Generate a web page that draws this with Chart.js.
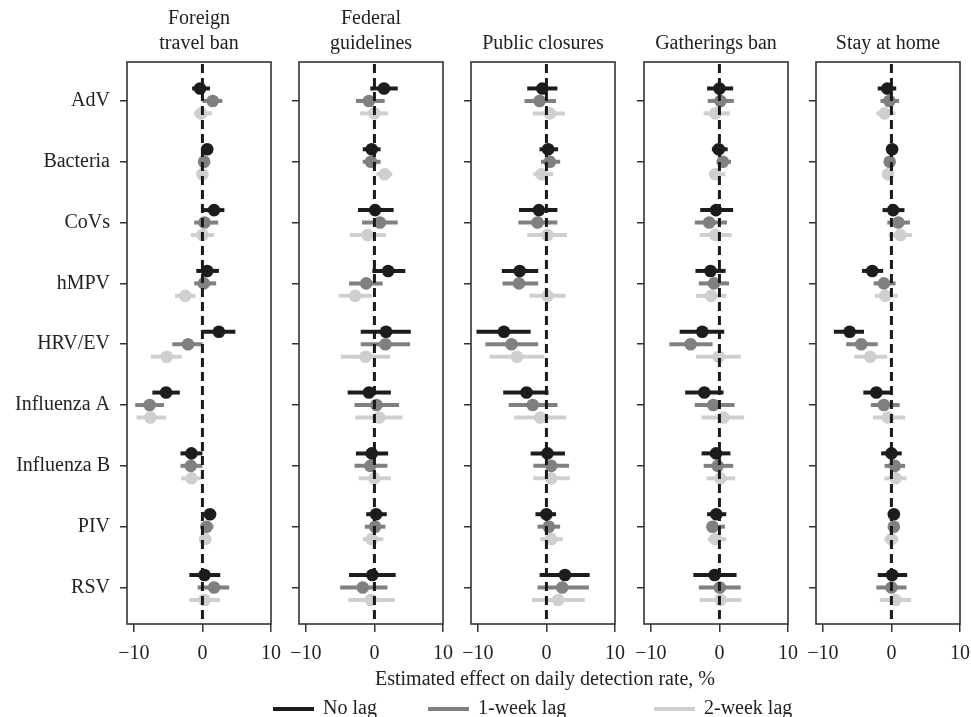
<!DOCTYPE html>
<html>
<head>
<meta charset="utf-8">
<script src="https://cdn.jsdelivr.net/npm/chart.js@4.4.0/dist/chart.umd.min.js"></script>
<style>
  body { margin: 0; background: #fff; width: 971px; height: 717px; overflow: hidden; position: relative;
         font-family: "Liberation Serif", "DejaVu Serif", serif; color: #222; }
  canvas { position: absolute; top: 0; }
  .title { position: absolute; width: 190px; text-align: center; font-size: 20px; line-height: 25px; }
  .xlabel { position: absolute; left: 0; width: 1090px; text-align: center; font-size: 20px; top: 667px; }
  .legend { position: absolute; top: 695px; font-size: 20px; line-height: 24px; white-space: nowrap; }
  .legend span.swatch { display: inline-block; width: 41px; height: 4px; vertical-align: middle; margin-right: 9px; }
</style>
</head>
<body>
<div id="wrap"></div>
<div class="xlabel">Estimated effect on daily detection rate, %</div>
<div id="legend"></div>

<script>
// Categories and panel titles
const categories = ['AdV', 'Bacteria', 'CoVs', 'hMPV', 'HRV/EV', 'Influenza A', 'Influenza B', 'PIV', 'RSV'];
const interventions = ['Foreign\ntravel ban', 'Federal\nguidelines', 'Public closures', 'Gatherings ban', 'Stay at home'];
const lags = ['No lag', '1-week lag', '2-week lag'];

// Each row: [estimate, lower, upper] per category, in %
const travelNoLag = [[-0.35, -1.5, 1.1], [0.7, 0, 1.4], [1.7, 0, 3.2], [0.7, -0.9, 2.4], [2.4, 0, 4.8],
  [-5.3, -7.3, -3.3], [-1.6, -3.2, 0], [1.1, 0.3, 2.0], [0.3, -1.9, 2.6]];
const travel1Week = [[1.5, 0, 2.9], [0.25, -0.5, 1.0], [0.3, -1.2, 2.3], [0.2, -1.2, 2.0], [-2.1, -4.4, 0],
  [-7.7, -9.8, -5.6], [-1.7, -3.2, 0], [0.6, -0.3, 1.6], [1.7, -0.7, 3.9]];
const travel2Week = [[-0.2, -1.2, 1.4], [0, -0.7, 0.7], [0, -1.7, 1.7], [-2.5, -4.0, -1.0], [-5.2, -7.5, -3.0],
  [-7.6, -9.6, -5.3], [-1.6, -3.1, -0.2], [0.4, -0.4, 1.3], [0.3, -1.9, 2.6]];

const federalNoLag = [[1.4, -0.6, 3.4], [-0.4, -1.7, 0.9], [0.1, -2.4, 2.8], [2.0, -0.3, 4.5], [1.7, -2.0, 5.3],
  [-0.8, -3.9, 2.4], [-0.4, -2.7, 2.0], [0.24, -1.2, 1.8], [-0.3, -3.7, 3.1]];
const federal1Week = [[-0.8, -2.7, 1.5], [-0.5, -1.7, 0.9], [0.8, -1.8, 3.4], [-1.2, -3.7, 1.2], [1.6, -2.0, 5.2],
  [0.3, -2.9, 3.6], [-0.6, -2.9, 1.9], [0.1, -1.4, 1.6], [-1.7, -5.0, 1.9]];
const federal2Week = [[0, -2.1, 2.0], [1.5, 0.3, 2.6], [-1.0, -3.6, 1.7], [-2.8, -5.2, -0.4], [-1.3, -4.9, 2.3],
  [0.7, -2.8, 4.1], [0, -2.3, 2.4], [-0.4, -1.7, 1.3], [-0.5, -3.8, 3.0]];

const publicNoLag = [[-0.6, -2.8, 1.6], [0.25, -1.0, 1.7], [-1.1, -4.0, 1.6], [-3.9, -6.5, -1.2], [-6.2, -10.2, -2.3],
  [-2.9, -6.3, 0.3], [0.15, -2.3, 2.7], [0, -1.6, 1.4], [2.7, -1.0, 6.3]];
const public1Week = [[-1.0, -3.2, 1.4], [0.5, -0.8, 2.0], [-1.3, -4.1, 1.6], [-4.0, -6.4, -1.2], [-5.1, -8.9, -1.2],
  [-2.0, -5.5, 1.6], [0.7, -1.9, 3.3], [0.35, -1.3, 2.0], [2.3, -1.3, 6.2]];
const public2Week = [[0.5, -2.0, 2.7], [-0.7, -1.9, 1.0], [0.15, -2.8, 3.0], [0.15, -2.5, 2.8], [-4.3, -8.3, -0.3],
  [-0.9, -4.7, 2.9], [0.7, -1.9, 3.4], [0.7, -0.9, 2.4], [1.7, -2.1, 5.6]];

const gatheringNoLag = [[0, -1.8, 2.0], [-0.1, -1.1, 1.2], [-0.5, -2.8, 2.0], [-1.3, -3.5, 0.9], [-2.5, -5.8, 0.7],
  [-2.2, -5.0, 0.6], [-0.5, -2.6, 1.6], [-0.45, -1.8, 1.0], [-0.7, -3.8, 2.5]];
const gathering1Week = [[0.15, -1.7, 2.1], [0.5, -0.4, 1.7], [-1.5, -3.6, 1.1], [-0.8, -3.0, 1.4], [-4.2, -7.3, -1.0],
  [-0.9, -3.6, 2.2], [-0.25, -2.3, 2.0], [-1.0, -1.9, 0.8], [0.05, -3.0, 3.1]];
const gathering2Week = [[-0.6, -2.3, 1.5], [-0.6, -1.4, 0.9], [-0.6, -2.9, 1.8], [-1.2, -3.4, 1.0], [-0.1, -3.4, 3.1],
  [0.6, -2.6, 3.6], [0.15, -1.9, 2.3], [-0.6, -1.7, 1.0], [0.15, -2.9, 3.2]];

const stayNoLag = [[-0.6, -2.0, 0.7], [0.1, -0.3, 0.5], [0.25, -1.3, 1.9], [-2.8, -4.3, -1.2], [-6.1, -8.4, -4.0],
  [-2.2, -4.1, -0.2], [0, -1.5, 1.5], [0.35, -0.3, 1.1], [0.1, -2.0, 2.3]];
const stay1Week = [[-0.3, -1.6, 1.1], [-0.25, -0.6, 0.2], [1.0, -0.6, 2.7], [-1.1, -2.6, 0.6], [-4.4, -6.6, -2.0],
  [-1.1, -3.0, 1.2], [0.5, -1.0, 2.0], [0.35, -0.2, 0.9], [0, -2.2, 2.2]];
const stay2Week = [[-1.0, -2.2, 0.6], [-0.5, -1.1, 0.2], [1.3, -0.4, 3.0], [-0.9, -2.4, 0.9], [-3.1, -5.4, -0.6],
  [-0.5, -2.7, 2.0], [0.6, -1.0, 2.2], [0, -1.0, 1.0], [0.6, -1.7, 2.9]];

const panelData = [
  [travelNoLag, travel1Week, travel2Week],
  [federalNoLag, federal1Week, federal2Week],
  [publicNoLag, public1Week, public2Week],
  [gatheringNoLag, gathering1Week, gathering2Week],
  [stayNoLag, stay1Week, stay2Week]
];

const xTicks = [-10, 0, 10];

// Styling
const lagColors = ['#1c1c1c', '#808080', '#cfcfcf'];
const lagOffsets = [-0.205, 0, 0.205];
const panelLefts = [127, 299, 471, 644, 816];
const panelWidth = 144;
const fontFamily = '"Liberation Serif", "DejaVu Serif", serif';
const axisColor = '#333';

// Error bars, zero line and the frame around each panel
const panelDecor = {
    id: 'panelDecor',
    beforeDatasetDraw(chart, args) {
        const ds = chart.data.datasets[args.index];
        const xs = chart.scales.x, ys = chart.scales.y;
        const ctx = chart.ctx;
        ctx.save();
        ctx.strokeStyle = ds.borderColor;
        ctx.lineWidth = 4;
        ctx.lineCap = 'butt';
        ds.data.forEach(p => {
            const y = ys.getPixelForValue(p.y);
            ctx.beginPath();
            ctx.moveTo(xs.getPixelForValue(p.lo), y);
            ctx.lineTo(xs.getPixelForValue(p.hi), y);
            ctx.stroke();
        });
        ctx.restore();
    },
    afterDatasetsDraw(chart) {
        const ctx = chart.ctx;
        const a = chart.chartArea;
        const x0 = chart.scales.x.getPixelForValue(0);
        ctx.save();
        ctx.strokeStyle = '#1a1a1a';
        ctx.lineWidth = 3;
        ctx.setLineDash([9, 5]);
        ctx.beginPath();
        ctx.moveTo(x0, a.top + 2);
        ctx.lineTo(x0, a.bottom);
        ctx.stroke();
        ctx.setLineDash([]);
        ctx.strokeStyle = axisColor;
        ctx.lineWidth = 1.6;
        ctx.strokeRect(a.left, a.top, a.right - a.left, a.bottom - a.top);
        ctx.restore();
    }
};

function buildPanel(p) {
    const yw = p === 0 ? panelLefts[0] : 30;
    const padRight = 24;
    const canvas = document.createElement('canvas');
    canvas.width = yw + panelWidth + padRight;
    canvas.height = 672;
    canvas.style.left = (panelLefts[p] - yw) + 'px';
    document.getElementById('wrap').appendChild(canvas);

    const datasets = lags.map((lag, k) => ({
        label: lag,
        data: panelData[p][k].map((r, i) => ({ x: r[0], y: i + lagOffsets[k], lo: r[1], hi: r[2] })),
        backgroundColor: lagColors[k],
        borderColor: lagColors[k],
        pointRadius: 6.3,
        pointBorderWidth: 0,
        pointHoverRadius: 6.3
    }));

    new Chart(canvas.getContext('2d'), {
        type: 'scatter',
        data: { datasets },
        options: {
            responsive: false,
            animation: false,
            layout: { padding: { top: 62, left: 0, right: padRight, bottom: 0 } },
            scales: {
                x: {
                    type: 'linear',
                    min: -11,
                    max: 10,
                    afterBuildTicks: s => { s.ticks = xTicks.map(v => ({ value: v })); },
                    afterFit: s => { s.height = 48; s.paddingLeft = 0; s.paddingRight = 0; },
                    ticks: {
                        callback: v => v < 0 ? '\u2212' + Math.abs(v) : String(v),
                        font: { family: fontFamily, size: 20 },
                        color: '#222',
                        padding: 10,
                        maxRotation: 0,
                        autoSkip: false
                    },
                    grid: { drawOnChartArea: false, drawTicks: true, tickLength: 8, color: axisColor, lineWidth: 1.5 },
                    border: { display: false }
                },
                y: {
                    type: 'linear',
                    reverse: true,
                    min: -0.64,
                    max: 8.6,
                    afterBuildTicks: s => { s.ticks = categories.map((c, i) => ({ value: i })); },
                    afterFit: s => { s.width = yw; s.paddingTop = 0; s.paddingBottom = 0; },
                    ticks: {
                        callback: v => p === 0 ? categories[v] : '',
                        font: { family: fontFamily, size: 20 },
                        color: '#222',
                        padding: 10,
                        autoSkip: false
                    },
                    grid: { drawOnChartArea: false, drawTicks: true, tickLength: 7, color: axisColor, lineWidth: 1.5 },
                    border: { display: false }
                }
            },
            plugins: {
                legend: { display: false },
                tooltip: { enabled: false }
            }
        },
        plugins: [panelDecor]
    });

    // Panel title
    const lines = interventions[p].split('\n');
    const t = document.createElement('div');
    t.className = 'title';
    t.style.left = (panelLefts[p] + panelWidth / 2 - 95) + 'px';
    t.style.top = (lines.length === 2 ? 5 : 30) + 'px';
    t.innerHTML = lines.join('<br>');
    document.body.appendChild(t);
}

function buildLegend() {
    const starts = [273, 428, 654];
    const box = document.getElementById('legend');
    lags.forEach((lag, k) => {
        const item = document.createElement('div');
        item.className = 'legend';
        item.style.left = starts[k] + 'px';
        item.innerHTML = '<span class="swatch" style="background:' + lagColors[k] + '"></span>' + lag;
        box.appendChild(item);
    });
}

panelData.forEach((d, p) => buildPanel(p));
buildLegend();
</script>
</body>
</html>
